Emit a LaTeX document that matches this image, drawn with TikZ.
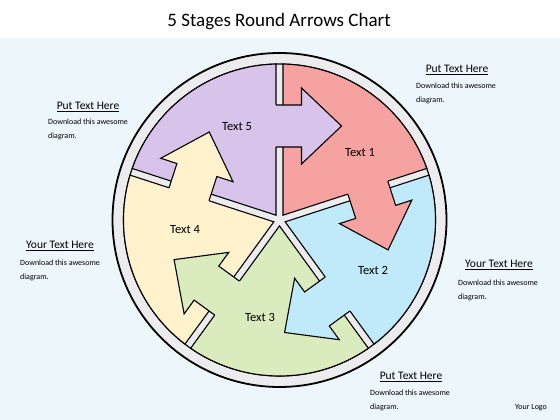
\documentclass[tikz,border=0pt]{standalone}
\usepackage{fontspec}
\setmainfont{Carlito}
\definecolor{bgblue}{RGB}{236,246,251}
\definecolor{ringgray}{RGB}{236,236,238}
\definecolor{secred}{RGB}{246,162,160}
\definecolor{secblue}{RGB}{192,234,250}
\definecolor{secgreen}{RGB}{218,235,190}
\definecolor{secyellow}{RGB}{255,242,205}
\definecolor{secpurple}{RGB}{216,196,234}
\begin{document}
\begin{tikzpicture}[x=1pt,y=1pt,
    heading/.style={anchor=base,inner sep=0,font=\fontsize{11.5}{13}\selectfont},
    body/.style={anchor=base west,inner sep=0,align=left,font=\fontsize{8}{14}\selectfont},
    sectortext/.style={inner sep=0,font=\fontsize{12.5}{14}\selectfont}]
    \useasboundingbox (0,0) rectangle (560,420);
    \fill[bgblue] (0,0) rectangle (560,382);
    \fill[white] (0,382) rectangle (560,420);

    \node at (279,393) [anchor=base,inner sep=0,font=\fontsize{19}{22}\selectfont] (title) {5 Stages Round Arrows Chart};

    % ring round the wheel
    \filldraw[fill=ringgray,line width=1.8] (279.5,200) circle (167);
    \draw[line width=1.2] (279.5,200) circle (156);

    % wedges first, arrows on top
    \foreach \b/\col in {90/secpurple,18/secred,-54/secblue,-126/secgreen,162/secyellow} {
        \begin{scope}[shift={(279.5,200)},rotate=\b-90]
            \filldraw[fill=\col,line width=1.1] (126:5.95) -- (91.29:156) arc[start angle=91.29,end angle=160.71,radius=156] -- cycle;
        \end{scope}
    }
    \foreach \b/\col in {90/secpurple,18/secred,-54/secblue,-126/secgreen,162/secyellow} {
        \begin{scope}[shift={(279.5,200)},rotate=\b-90]
            \fill[\col] (-6,73) -- (-6,115) -- (22,115) -- (22,132) -- (62,94) -- (22,56) -- (22,73) -- cycle;
            \draw[line width=1.1] (-3.5,115) -- (22,115) -- (22,132) -- (62,94) -- (22,56) -- (22,73) -- (-3.5,73);
        \end{scope}
    }

    \node at (237,293) [sectortext] (s5) {Text 5};
    \node at (360,267) [sectortext] (s1) {Text 1};
    \node at (373,150) [sectortext] (s2) {Text 2};
    \node at (260,103) [sectortext] (s3) {Text 3};
    \node at (185,190) [sectortext] (s4) {Text 4};

    % side notes (body nodes sit on their last line)
    \node at (88,310) [heading] (h_topleft) {\underline{Put Text Here}};
    \node at (48,281) [body] (b_topleft) {Download this awesome\\diagram.};
    \node at (457,347) [heading] (h_topright) {\underline{Put Text Here}};
    \node at (416,317) [body] (b_topright) {Download this awesome\\diagram.};
    \node at (60,171) [heading] (h_left) {\underline{Your Text Here}};
    \node at (20,140) [body] (b_left) {Download this awesome\\diagram.};
    \node at (499,152) [heading] (h_right) {\underline{Your Text Here}};
    \node at (458,120) [body] (b_right) {Download this awesome\\diagram.};
    \node at (411,40) [heading] (h_bottom) {\underline{Put Text Here}};
    \node at (370,10) [body] (b_bottom) {Download this awesome\\diagram.};
    \node at (531,10) [anchor=base,inner sep=0,font=\fontsize{8}{10}\selectfont] (logo) {Your Logo};
\end{tikzpicture}
\end{document}
